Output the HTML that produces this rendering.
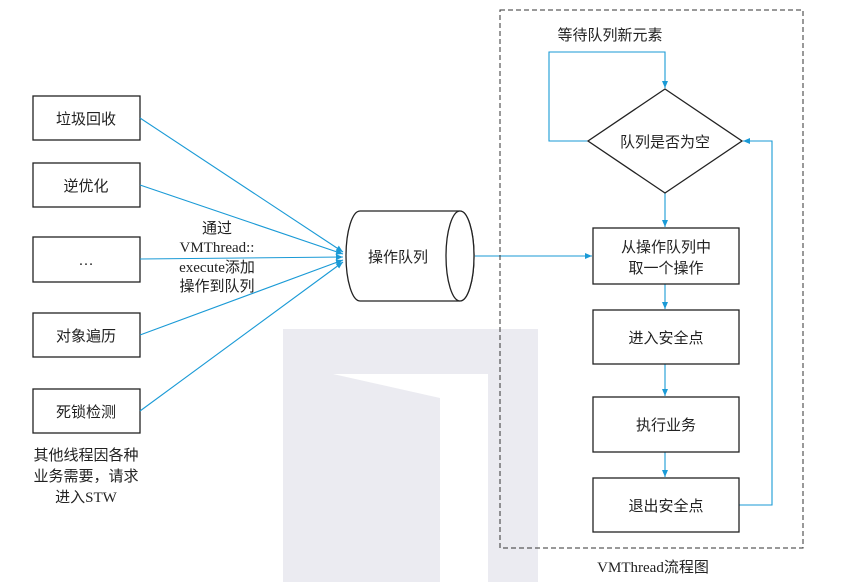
<!DOCTYPE html>
<html><head><meta charset="utf-8"><style>
html,body{margin:0;padding:0;background:#fff;width:843px;height:582px;overflow:hidden}
text{font-family:"Liberation Serif","Noto Sans CJK SC",serif;font-size:15px;fill:#222}
</style></head><body>
<svg width="843" height="582" viewBox="0 0 843 582" xmlns="http://www.w3.org/2000/svg">
<defs>
<marker id="a" markerWidth="8" markerHeight="8" refX="7" refY="4" orient="auto" markerUnits="userSpaceOnUse"><path d="M0,1 L7,4 L0,7 Z" fill="#1a9ad6"/></marker>
</defs>
<rect x="283" y="329" width="255" height="253" fill="#ebebf1"/>
<polygon points="333,374 488,374 488,582 440,582 440,398" fill="#fff"/>
<g fill="#fff" stroke="#222" stroke-width="1.3">
<rect x="33" y="96" width="107" height="44"/>
<rect x="33" y="163" width="107" height="44"/>
<rect x="33" y="237" width="107" height="45"/>
<rect x="33" y="313" width="107" height="44"/>
<rect x="33" y="389" width="107" height="44"/>
</g>
<g text-anchor="middle">
<text x="86" y="124">垃圾回收</text>
<text x="86" y="191">逆优化</text>
<text x="86" y="265">…</text>
<text x="86" y="341">对象遍历</text>
<text x="86" y="417">死锁检测</text>
<text x="217" y="233">通过</text>
<text x="217" y="252">VMThread::</text>
<text x="217" y="272">execute添加</text>
<text x="217" y="291">操作到队列</text>
<text x="86" y="460">其他线程因各种</text>
<text x="86" y="481">业务需要，请求</text>
<text x="86" y="502">进入STW</text>
</g>
<g stroke="#1a9ad6" stroke-width="1.1" fill="none" marker-end="url(#a)">
<line x1="140" y1="118" x2="343" y2="252"/>
<line x1="140" y1="185" x2="343" y2="254"/>
<line x1="140" y1="259" x2="343" y2="257"/>
<line x1="140" y1="335" x2="343" y2="260"/>
<line x1="140" y1="411" x2="343" y2="262"/>
<line x1="475" y1="256" x2="592" y2="256"/>
<polyline points="588,141 549,141 549,52 665,52 665,88"/>
<line x1="665" y1="193" x2="665" y2="227"/>
<line x1="665" y1="284" x2="665" y2="309"/>
<line x1="665" y1="364" x2="665" y2="396"/>
<line x1="665" y1="452" x2="665" y2="477"/>
<polyline points="739,505 772,505 772,141 743,141"/>
</g>
<g fill="#fff" stroke="#222" stroke-width="1.3">
<path d="M360,211 L460,211 A14,45 0 0 1 460,301 L360,301 A14,45 0 0 1 360,211 Z"/>
<ellipse cx="460" cy="256" rx="14" ry="45"/>
</g>
<text x="398" y="262" text-anchor="middle">操作队列</text>
<rect x="500" y="10" width="303" height="538" fill="none" stroke="#333" stroke-width="1" stroke-dasharray="5,3"/>
<polygon points="665,89 742,141 665,193 588,141" fill="#fff" stroke="#222" stroke-width="1.3"/>
<g fill="#fff" stroke="#222" stroke-width="1.3">
<rect x="593" y="228" width="146" height="56"/>
<rect x="593" y="310" width="146" height="54"/>
<rect x="593" y="397" width="146" height="55"/>
<rect x="593" y="478" width="146" height="54"/>
</g>
<g text-anchor="middle">
<text x="610" y="40">等待队列新元素</text>
<text x="665" y="147">队列是否为空</text>
<text x="666" y="252">从操作队列中</text>
<text x="666" y="273">取一个操作</text>
<text x="666" y="343">进入安全点</text>
<text x="666" y="430">执行业务</text>
<text x="666" y="511">退出安全点</text>
<text x="653" y="572">VMThread流程图</text>
</g>
</svg>
</body></html>
